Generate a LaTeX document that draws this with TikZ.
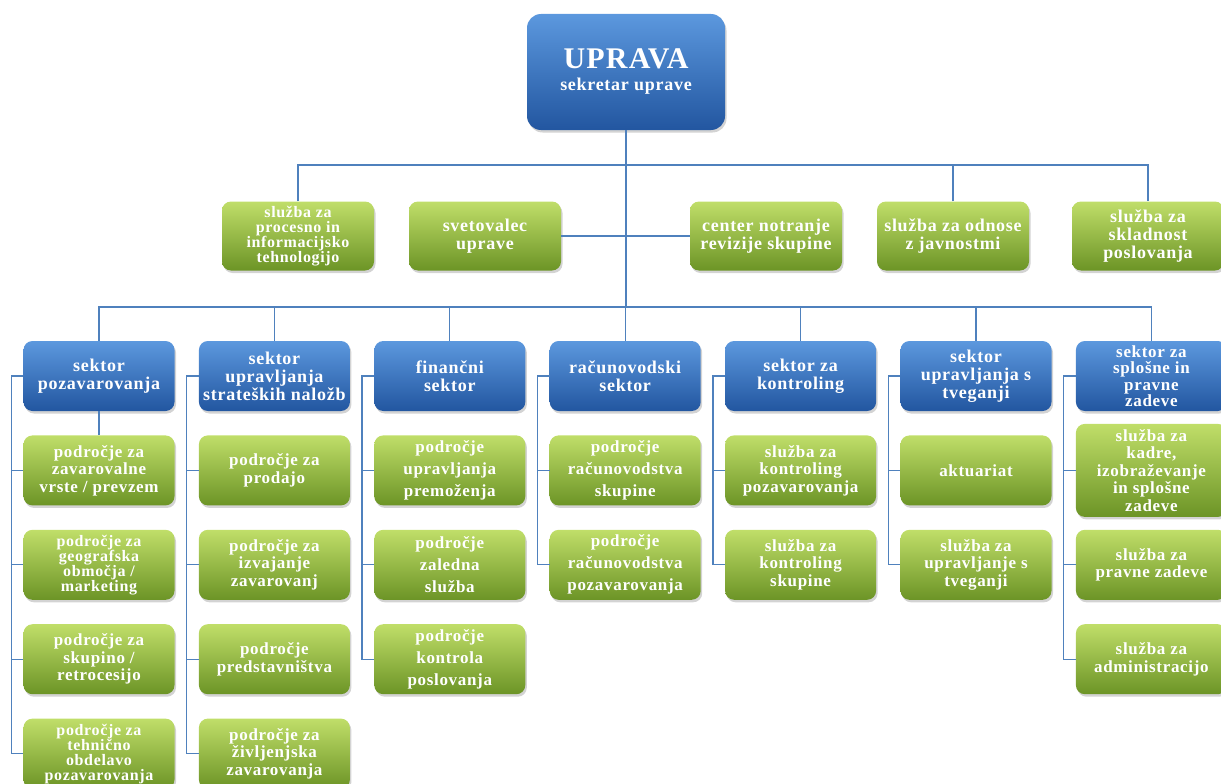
\documentclass[tikz,border=0pt]{standalone}
\usepackage{fontspec}
\setmainfont{Liberation Serif}[LetterSpace=4]
\usetikzlibrary{positioning,shadows}
\definecolor{blueTop}{RGB}{92,152,222}
\definecolor{blueBot}{RGB}{34,86,160}
\definecolor{greenTop}{RGB}{192,222,105}
\definecolor{greenBot}{RGB}{108,148,38}
\definecolor{lineBlue}{RGB}{79,129,189}
\tikzset{
  box/.style={rounded corners=9pt, align=center, text=white, inner sep=2pt,
    minimum width=151pt, minimum height=70pt,
    drop shadow={opacity=0.35, shadow xshift=1.5pt, shadow yshift=-2.5pt}},
  head/.style={box, top color=blueTop, bottom color=blueBot, rounded corners=14pt,
    minimum width=198pt, minimum height=116pt, font=\bfseries\fontsize{18}{22}\selectfont},
  sector/.style={box, top color=blueTop, bottom color=blueBot,
    font=\bfseries\fontsize{18}{18}\selectfont},
  staff/.style={box, top color=greenTop, bottom color=greenBot, minimum width=152pt,
    minimum height=69pt, font=\bfseries\fontsize{18}{18}\selectfont},
  unit/.style={box, top color=greenTop, bottom color=greenBot,
    font=\bfseries\fontsize{17}{17.5}\selectfont},
  tight/.style={font=\bfseries\fontsize{16}{15}\selectfont},
  loose/.style={font=\bfseries\fontsize{17}{22}\selectfont},
  link/.style={draw=lineBlue, line width=1.3pt},
}
\begin{document}
\begin{tikzpicture}[x=1pt, y=-1pt, node distance=24pt and 24pt]
  \useasboundingbox (0,0) rectangle (1221,784);
  \coordinate (staffbus) at (0,165);
  \coordinate (secbus) at (0,307);
  % uprava
  \node[head] (uprava) at (626,72) {{\fontsize{30}{30}\selectfont UPRAVA}\\sekretar uprave};
  % staff row
  \node[staff, font=\bfseries\fontsize{16}{15}\selectfont] (itproc) at (298,236)
    {služba za\\procesno in\\informacijsko\\tehnologijo};
  \node[staff] (svetovalec) at (485,236) {svetovalec\\uprave};
  \node[staff] (revizija) at (766,236) {center notranje\\revizije skupine};
  \node[staff] (odnosi) at (953,236) {služba za odnose\\z javnostmi};
  \node[staff] (skladnost) at (1148,236) {služba za\\skladnost\\poslovanja};
  % sectors
  \node[sector] (pozav) at (99,376) {sektor\\pozavarovanja};
  \node[sector, right=of pozav] (nalozbe) {sektor\\upravljanja\\strateških naložb};
  \node[sector, right=of nalozbe] (fin) {finančni\\sektor};
  \node[sector, right=of fin] (racun) {računovodski\\sektor};
  \node[sector, right=of racun] (kontr) {sektor za\\kontroling};
  \node[sector, right=of kontr] (tveg) {sektor\\upravljanja s\\tveganji};
  \node[sector, right=of tveg, font=\bfseries\fontsize{17}{16.5}\selectfont] (splos)
    {sektor za\\splošne in\\pravne\\zadeve};
  % units
  \node[unit, below=of pozav] (pozav1) {področje za\\zavarovalne\\vrste / prevzem};
  \node[unit, tight, below=of pozav1] (pozav2) {področje za\\geografska\\območja /\\marketing};
  \node[unit, below=of pozav2] (pozav3) {področje za\\skupino /\\retrocesijo};
  \node[unit, tight, below=of pozav3] (pozav4) {področje za\\tehnično\\obdelavo\\pozavarovanja};
  \node[unit, below=of nalozbe] (nalozbe1) {področje za\\prodajo};
  \node[unit, below=of nalozbe1] (nalozbe2) {področje za\\izvajanje\\zavarovanj};
  \node[unit, below=of nalozbe2] (nalozbe3) {področje\\predstavništva};
  \node[unit, below=of nalozbe3] (nalozbe4) {področje za\\življenjska\\zavarovanja};
  \node[unit, loose, below=of fin] (fin1) {področje\\upravljanja\\premoženja};
  \node[unit, loose, below=of fin1] (fin2) {področje\\zaledna\\služba};
  \node[unit, loose, below=of fin2] (fin3) {področje\\kontrola\\poslovanja};
  \node[unit, loose, below=of racun] (racun1) {področje\\računovodstva\\skupine};
  \node[unit, loose, below=of racun1] (racun2) {področje\\računovodstva\\pozavarovanja};
  \node[unit, below=of kontr] (kontr1) {služba za\\kontroling\\pozavarovanja};
  \node[unit, below=of kontr1] (kontr2) {služba za\\kontroling\\skupine};
  \node[unit, below=of tveg] (tveg1) {aktuariat};
  \node[unit, below=of tveg1] (tveg2) {služba za\\upravljanje s\\tveganji};
  \node[unit, minimum height=93pt, right=of tveg1] (splos1)
    {služba za\\kadre,\\izobraževanje\\in splošne\\zadeve};
  \node[unit, right=of tveg2] (splos2) {služba za\\pravne zadeve};
  \node[unit, below=of splos2] (splos3) {služba za\\administracijo};
  % connectors
  \draw[link] (uprava.south) -- (uprava.south |- secbus);
  \draw[link] (itproc.north) -- (itproc.north |- staffbus) -- (skladnost.north |- staffbus) -- (skladnost.north);
  \draw[link] (odnosi.north) -- (odnosi.north |- staffbus);
  \draw[link] (svetovalec.east) -- (uprava.south |- svetovalec.east);
  \draw[link] (revizija.west) -- (uprava.south |- revizija.west);
  \draw[link] (pozav.north) -- (pozav.north |- secbus) -- (splos.north |- secbus) -- (splos.north);
  \foreach \s in {nalozbe,fin,racun,kontr,tveg}
    \draw[link] (\s.north) -- (\s.north |- secbus);
  \draw[link] (pozav.south) -- (pozav1.north);
  \foreach \s/\n in {pozav/4,nalozbe/4,fin/3,racun/2,kontr/2,tveg/2,splos/3}
    \foreach \i in {1,...,\n}
      \draw[link] (\s.west) -- ++(-12,0) |- (\s\i.west);
\end{tikzpicture}
\end{document}
